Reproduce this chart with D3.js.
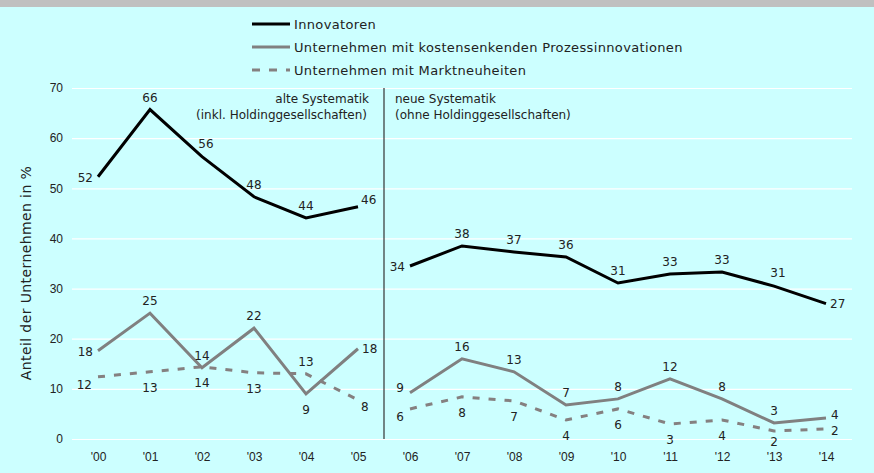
<!DOCTYPE html>
<html>
<head>
<meta charset="utf-8">
<script src="https://cdn.jsdelivr.net/npm/d3@7"></script>
<style>
  body { margin: 0; background: #ccffff; }
  svg { display: block; font-family: "DejaVu Sans", sans-serif; }
</style>
</head>
<body>
<script>
// data
const years = ["'00","'01","'02","'03","'04","'05","'06","'07","'08","'09","'10","'11","'12","'13","'14"];
const innovatoren = [52.3, 65.7, 56.3, 48.3, 44.1, 46.3, 34.5, 38.5, 37.3, 36.3, 31.1, 32.9, 33.3, 30.5, 27.0];
const prozess = [17.6, 25.1, 14.2, 22.1, 9.0, 18.0, 9.2, 16.0, 13.4, 6.8, 8.0, 12.0, 8.0, 3.2, 4.2];
const markt = [12.4, 13.4, 14.4, 13.2, 13.0, 7.8, 6.0, 8.4, 7.6, 3.8, 6.0, 3.0, 3.8, 1.6, 2.0];
const innovatorenLabels = [52, 66, 56, 48, 44, 46, 34, 38, 37, 36, 31, 33, 33, 31, 27];
const prozessLabels = [18, 25, 14, 22, 9, 18, 9, 16, 13, 7, 8, 12, 8, 3, 4];
const marktLabels = [12, 13, 14, 13, 13, 8, 6, 8, 7, 4, 6, 3, 4, 2, 2];
// where each data label sits relative to its point
const innovatorenPlace = ["l","t","tr","t","t","rt","l","t","t","t","t","t","t","tr","r"];
const prozessPlace = ["l","t","t","t","b","r","tl","t","t","t","t","t","t","t","ru"];
const marktPlace = ["bl","b","b","b","t","br","bl","b","b","b","b","b","b","bs","rd"];
const yTicks = [0, 10, 20, 30, 40, 50, 60, 70];
const seriesNames = ["Innovatoren", "Unternehmen mit kostensenkenden Prozessinnovationen", "Unternehmen mit Marktneuheiten"];
const splitAt = 6; // first year of the new methodology

const width = 874, height = 473;
const svg = d3.select("body").append("svg")
    .attr("width", width)
    .attr("height", height);

svg.append("rect").attr("width", width).attr("height", height).attr("fill", "#ccffff");
svg.append("rect").attr("width", width).attr("height", 7).attr("fill", "#c0c0c0");

const x = d3.scalePoint().domain(years).range([72, 852]).padding(0.5);
const y = d3.scaleLinear().domain([0, 70]).range([439, 88]);

// y axis with white grid lines
const yAxis = svg.append("g")
    .attr("transform", "translate(72,0)")
    .call(d3.axisLeft(y).tickValues(yTicks).tickSize(-780).tickPadding(9));
yAxis.select(".domain").remove();
yAxis.selectAll("line").attr("stroke", "#ffffff").attr("stroke-width", 1.2);
yAxis.selectAll("text").attr("fill", "#222").style("font-size", "12px");

const xAxis = svg.append("g")
    .attr("transform", "translate(0,439)")
    .call(d3.axisBottom(x).tickSize(0).tickPadding(13));
xAxis.select(".domain").remove();
xAxis.selectAll("text").attr("fill", "#222").style("font-size", "12px");

svg.append("text")
    .attr("transform", "translate(31,273) rotate(-90)")
    .attr("text-anchor", "middle")
    .attr("fill", "#222")
    .style("font-size", "14px")
    .style("letter-spacing", "0.4px")
    .text("Anteil der Unternehmen in %");

// separator between old and new methodology
const sepX = (x(years[splitAt - 1]) + x(years[splitAt])) / 2;
svg.append("line")
    .attr("x1", sepX).attr("x2", sepX)
    .attr("y1", y(70)).attr("y2", y(0))
    .attr("stroke", "#333").attr("stroke-width", 1.2);

const note = svg.append("g").attr("fill", "#222").style("font-size", "12px");
note.append("text").attr("x", sepX - 15).attr("y", 103).attr("text-anchor", "end").text("alte Systematik");
note.append("text").attr("x", sepX - 17).attr("y", 119).attr("text-anchor", "end").text("(inkl. Holdinggesellschaften)");
note.append("text").attr("x", sepX + 11).attr("y", 103).text("neue Systematik");
note.append("text").attr("x", sepX + 11).attr("y", 119).text("(ohne Holdinggesellschaften)");

const series = [
  { name: seriesNames[0], values: innovatoren, labels: innovatorenLabels, place: innovatorenPlace, color: "#000000", dash: null },
  { name: seriesNames[1], values: prozess, labels: prozessLabels, place: prozessPlace, color: "#808080", dash: null },
  { name: seriesNames[2], values: markt, labels: marktLabels, place: marktPlace, color: "#858080", dash: "7,9" }
];

const line = d3.line()
    .x(d => x(d.year))
    .y(d => y(d.value));

series.forEach(s => {
  const pts = years.map((yr, i) => ({ year: yr, value: s.values[i] }));
  [pts.slice(0, splitAt), pts.slice(splitAt)].forEach(seg => {
    svg.append("path")
        .datum(seg)
        .attr("d", line)
        .attr("fill", "none")
        .attr("stroke", s.color)
        .attr("stroke-width", 3)
        .attr("stroke-dasharray", s.dash);
  });
});

const offsets = {
  t:  [0, -12, "middle"],
  b:  [0, 16, "middle"],
  bs: [0, 11, "middle"],
  l:  [-5, 1, "end"],
  r:  [4, 0, "start"],
  ru: [5, -3, "start"],
  rd: [5, 2, "start"],
  rt: [3, -7, "start"],
  tr: [4, -13, "middle"],
  tl: [-6, -5, "end"],
  bl: [-6, 8, "end"],
  br: [3, 7, "start"]
};

series.forEach(s => {
  svg.append("g").selectAll("text")
    .data(years)
    .join("text")
    .attr("x", (d, i) => x(d) + offsets[s.place[i]][0])
    .attr("y", (d, i) => y(s.values[i]) + offsets[s.place[i]][1])
    .attr("dy", "0.35em")
    .attr("text-anchor", (d, i) => offsets[s.place[i]][2])
    .attr("fill", "#222")
    .style("font-size", "12px")
    .text((d, i) => s.labels[i]);
});

// legend
const legend = svg.append("g").attr("transform", "translate(252,0)");
series.forEach((s, i) => {
  const ly = [24, 47, 70][i];
  legend.append("line")
      .attr("x1", 0).attr("x2", 38)
      .attr("y1", ly).attr("y2", ly)
      .attr("stroke", s.color)
      .attr("stroke-width", 3)
      .attr("stroke-dasharray", s.dash ? "8,9" : null);
  legend.append("text")
      .attr("x", 42).attr("y", ly)
      .attr("dy", "0.35em")
      .attr("fill", "#222")
      .style("font-size", "13px")
      .style("letter-spacing", "0.35px")
      .text(s.name);
});
</script>
</body>
</html>
